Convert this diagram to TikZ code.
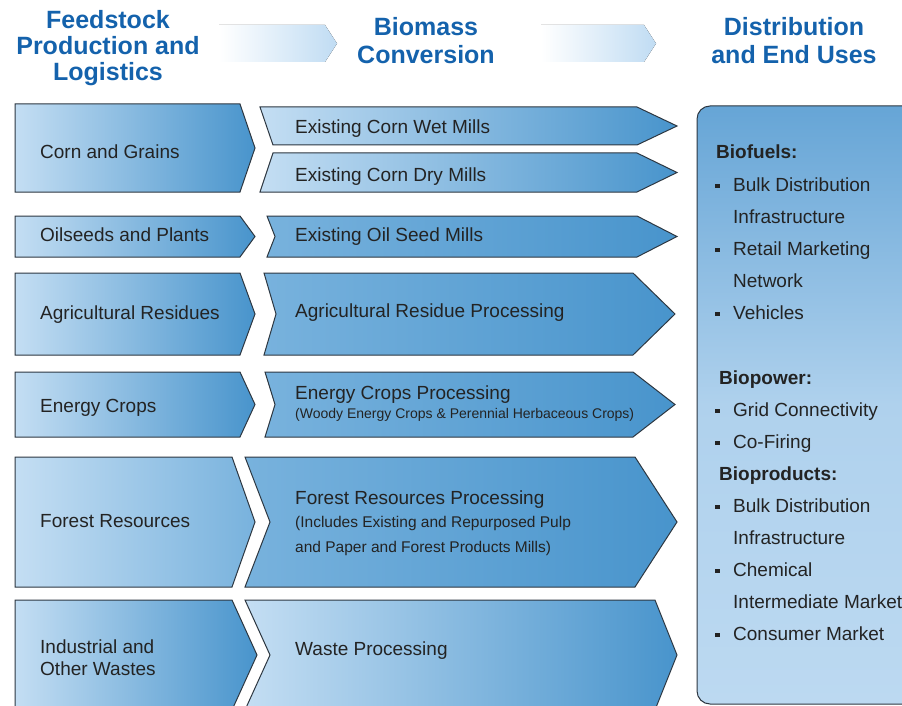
\documentclass[tikz,border=0pt]{standalone}
\usepackage{fontspec}
\setmainfont{Liberation Sans}
\definecolor{hdrblue}{RGB}{20,98,172}
\definecolor{hdrpale}{RGB}{192,220,243}
\definecolor{bxlight}{RGB}{196,222,243}
\definecolor{bxmid}{RGB}{120,178,221}
\definecolor{bxdark}{RGB}{72,148,204}
\definecolor{boxline}{RGB}{45,55,65}
\definecolor{pnltop}{RGB}{102,165,214}
\definecolor{pnllow}{RGB}{188,217,241}
\definecolor{txtgray}{RGB}{35,35,35}

\begin{document}
\begin{tikzpicture}[x=1pt,y=-1pt,
    chev/.style={draw=boxline,line width=1pt,line join=miter,left color=bxlight,right color=bxdark},
    chevdeep/.style={chev,left color=bxmid},
    chevsoft/.style={chev,right color=bxmid},
    hdrarrow/.style={left color=white,right color=hdrpale},
    panel/.style={draw=boxline,line width=1pt,rounded corners=13pt,top color=pnltop,bottom color=pnllow,middle color=pnllow!85!pnltop},
    hdr/.style={text=hdrblue,align=center,inner sep=0pt},
    lbl/.style={anchor=base west,inner sep=0pt,text=txtgray,font=\fontsize{19}{22}\selectfont},
    bul/.style={fill=txtgray,inner sep=0pt,minimum size=4.5pt}]
  \clip (0,0) rectangle (902,706);

  % column headings
  \fill[hdrarrow] (219,25) -- (325,25) -- (337,43.5) -- (325,62) -- (219,62) -- cycle;
  \fill[hdrarrow] (541,25) -- (644,25) -- (656,43.5) -- (644,62) -- (541,62) -- cycle;
  \node[hdr,font=\bfseries\fontsize{25}{26}\selectfont] (hfeed) at (108,48.5) {Feedstock\\Production and\\Logistics};
  \node[hdr,font=\bfseries\fontsize{25}{28}\selectfont] (hconv) at (426,41) {Biomass\\Conversion};
  \node[hdr,font=\bfseries\fontsize{25}{28}\selectfont] (hend) at (794,41) {Distribution\\and End Uses};

  % feedstocks
  \draw[chev] (15,104) -- (240,104) -- (255,148) -- (240,192) -- (15,192) -- cycle;
  \draw[chev] (15,216) -- (240,216) -- (255,236.5) -- (240,257) -- (15,257) -- cycle;
  \draw[chev] (15,273) -- (240,273) -- (255,314) -- (240,355) -- (15,355) -- cycle;
  \draw[chev] (15,372) -- (240,372) -- (255,404.5) -- (240,437) -- (15,437) -- cycle;
  \draw[chevsoft] (15,457) -- (232,457) -- (255,522) -- (232,587) -- (15,587) -- cycle;
  \draw[chev] (15,600) -- (232,600) -- (257,655) -- (232,710) -- (15,710) -- cycle;

  % conversion
  \draw[chev] (260,107) -- (637,107) -- (677,126) -- (637,145) -- (273,145) -- cycle;
  \draw[chev] (273,153) -- (637,153) -- (677,172.5) -- (637,192) -- (260,192) -- cycle;
  \draw[chevdeep] (267,216) -- (637,216) -- (677,236.5) -- (637,257) -- (267,257) -- (275,236.5) -- cycle;
  \draw[chevdeep] (264,273) -- (633,273) -- (675,314) -- (633,355) -- (264,355) -- (276,314) -- cycle;
  \draw[chevdeep] (265,372) -- (633,372) -- (675,404.5) -- (633,437) -- (265,437) -- (275,404.5) -- cycle;
  \draw[chevdeep] (245,457) -- (635,457) -- (677,522) -- (635,587) -- (245,587) -- (270,522) -- cycle;
  \draw[chev] (245,600) -- (655,600) -- (677,655) -- (655,710) -- (245,710) -- (270,655) -- cycle;

  % end uses
  \draw[panel] (697,106) rectangle (935,704);

  \node[lbl] (corn) at (40,158.5) {Corn and Grains};
  \node[lbl] (oilseed) at (40,241.3) {Oilseeds and Plants};
  \node[lbl] (agres) at (40,319) {Agricultural Residues};
  \node[lbl] (encrop) at (40,412) {Energy Crops};
  \node[lbl] (forest) at (40,527) {Forest Resources};
  \node[lbl,anchor=west,align=left] (wastes) at (40,658) {Industrial and\\Other Wastes};

  \node[lbl] (wetmill) at (295,133.5) {Existing Corn Wet Mills};
  \node[lbl] (drymill) at (295,181) {Existing Corn Dry Mills};
  \node[lbl] (oilmill) at (295,241) {Existing Oil Seed Mills};
  \node[lbl] (agproc) at (295,317) {Agricultural Residue Processing};
  \node[lbl] (enproc) at (295,399) {Energy Crops Processing};
  \node[lbl,font=\fontsize{14}{17}\selectfont] (enprocsub) at (295,418) {(Woody Energy Crops \& Perennial Herbaceous Crops)};
  \node[lbl] (foproc) at (295,504) {Forest Resources Processing};
  \node[lbl,anchor=west,align=left,font=\fontsize{15.5}{25}\selectfont] (foprocsub) at (295,536) {(Includes Existing and Repurposed Pulp\\and Paper and Forest Products Mills)};
  \node[lbl] (waproc) at (295,655) {Waste Processing};

  \node[lbl,font=\bfseries\fontsize{19}{22}\selectfont] (biofuel) at (716,158) {Biofuels:};
  \node[bul] (bfa) at (717.5,186) {};
  \node[lbl] (bulk) at (733,191) {Bulk Distribution};
  \node[lbl] (infra) at (733,223) {Infrastructure};
  \node[bul] (bfb) at (717.5,250) {};
  \node[lbl] (retail) at (733,255) {Retail Marketing};
  \node[lbl] (network) at (733,287) {Network};
  \node[bul] (bfc) at (717.5,314) {};
  \node[lbl] (vehicle) at (733,319) {Vehicles};

  \node[lbl,font=\bfseries\fontsize{19}{22}\selectfont] (biopower) at (719,384) {Biopower:};
  \node[bul] (bpa) at (717.5,411) {};
  \node[lbl] (grid) at (733,416) {Grid Connectivity};
  \node[bul] (bpb) at (717.5,443) {};
  \node[lbl] (cofire) at (733,448) {Co-Firing};

  \node[lbl,font=\bfseries\fontsize{19}{22}\selectfont] (bioprod) at (719,480) {Bioproducts:};
  \node[bul] (bda) at (717.5,507) {};
  \node[lbl] (bulkb) at (733,512) {Bulk Distribution};
  \node[lbl] (infrab) at (733,544) {Infrastructure};
  \node[bul] (bdb) at (717.5,571) {};
  \node[lbl] (chem) at (733,576) {Chemical};
  \node[lbl] (interm) at (733,608) {Intermediate Market};
  \node[bul] (bdc) at (717.5,635) {};
  \node[lbl] (consumer) at (733,640) {Consumer Market};
\end{tikzpicture}
\end{document}
